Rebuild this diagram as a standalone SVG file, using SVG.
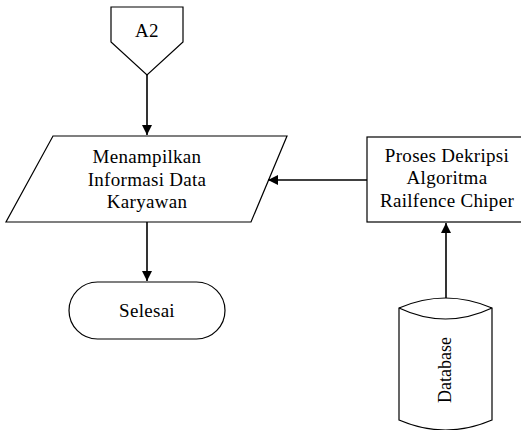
<svg xmlns="http://www.w3.org/2000/svg" width="521" height="430" viewBox="0 0 521 430">
  <style>
    .shape { fill: #ffffff; stroke: #000000; stroke-width: 1.2; }
    .label { font-family: "Liberation Serif", "Times New Roman", serif; font-size: 19px; fill: #000000; text-anchor: middle; letter-spacing: 0.3px; }
    .edge { fill: none; stroke: #000000; stroke-width: 1.6; }
  </style>
  <defs>
    <marker id="arrow" viewBox="0 0 10 10" refX="10" refY="5" markerWidth="10" markerHeight="10" markerUnits="userSpaceOnUse" orient="auto">
      <path d="M0,0 L10,5 L0,10 Z" fill="#000000"/>
    </marker>
  </defs>

  <rect width="521" height="430" fill="#ffffff"/>

  <!-- off-page connector -->
  <g id="a2">
    <path class="shape" d="M111,7 L183,7 L183,42 L147,75 L111,42 Z"/>
    <text class="label" x="147" y="37">A2</text>
  </g>

  <!-- output parallelogram -->
  <g id="tampil">
    <path class="shape" d="M53,136 L287,136 L251,222 L6,222 Z"/>
    <text class="label" x="147" y="163">Menampilkan</text>
    <text class="label" x="147" y="186">Informasi Data</text>
    <text class="label" x="147" y="208">Karyawan</text>
  </g>

  <!-- decryption process -->
  <g id="dekripsi">
    <rect class="shape" x="367" y="137" width="162" height="85"/>
    <text class="label" x="447" y="162">Proses Dekripsi</text>
    <text class="label" x="447" y="184">Algoritma</text>
    <text class="label" x="447" y="207">Railfence Chiper</text>
  </g>

  <!-- terminator -->
  <g id="selesai">
    <rect class="shape" x="69" y="282" width="156" height="57" rx="28.5" ry="28.5"/>
    <text class="label" x="147" y="317">Selesai</text>
  </g>

  <!-- database cylinder -->
  <g id="database">
    <path class="shape" d="M399,308 Q445.5,288 492,308 L492,420 Q445.5,440 399,420 Z"/>
    <path class="shape" fill="none" d="M399,308 Q445.5,330 492,308"/>
    <text class="label" style="letter-spacing:0;font-size:18px" transform="translate(451,370) rotate(-90)">Database</text>
  </g>

  <!-- connectors -->
  <g id="connectors">
    <line class="edge" x1="147" y1="75" x2="147" y2="135" marker-end="url(#arrow)"/>
    <line class="edge" x1="147" y1="222" x2="147" y2="281" marker-end="url(#arrow)"/>
    <line class="edge" x1="367" y1="180" x2="268" y2="180" marker-end="url(#arrow)"/>
    <line class="edge" x1="446" y1="298" x2="446" y2="223" marker-end="url(#arrow)"/>
  </g>
</svg>
